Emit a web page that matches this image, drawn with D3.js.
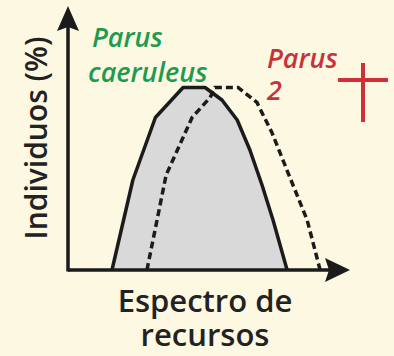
<!DOCTYPE html>
<html>
<head>
<meta charset="utf-8">
<script src="https://cdn.jsdelivr.net/npm/d3@7"></script>
<style>
  html, body { margin: 0; padding: 0; background: #fcf8e2; }
  svg { display: block; }
</style>
</head>
<body>
<svg id="chart" width="394" height="356"></svg>
<script>
// resource spectrum position (0-100) and individuals (%)
const caeruleusX = [15.6, 23, 31, 40.8, 48.6, 54.6, 60, 64.5, 68.8, 72.7, 77.7];
const caeruleusY = [0, 36, 61, 73, 73, 68, 60, 48, 34, 20, 0];
const parus2X = [28, 34.8, 44, 50.4, 52.1, 60.3, 67, 72.3, 78.7, 84.8, 89.4];
const parus2Y = [0, 38, 61, 69, 73, 73, 67, 55, 37, 20, 0];

const xLabel = ["Espectro de", "recursos"];
const yLabel = "Individuos (%)";
const name1 = ["Parus", "caeruleus"];
const name2 = ["Parus", "2"];

const svg = d3.select("#chart");

const x = d3.scaleLinear().domain([0, 100]).range([68, 350]);
const y = d3.scaleLinear().domain([0, 100]).range([270, 20]);

const dark = "#1b1b1b";

const line = d3.line()
  .x((d) => x(d[0]))
  .y((d) => y(d[1]));

const solid = caeruleusX.map((v, i) => [v, caeruleusY[i]]);
const dashed = parus2X.map((v, i) => [v, parus2Y[i]]);

// gray area for Parus caeruleus
svg.append("path")
  .datum(solid)
  .attr("fill", "#d9d9d9")
  .attr("stroke", dark)
  .attr("stroke-width", 3.5)
  .attr("stroke-linejoin", "round")
  .attr("d", line);

// dashed curve for Parus 2
svg.append("path")
  .datum(dashed)
  .attr("fill", "none")
  .attr("stroke", dark)
  .attr("stroke-width", 3.5)
  .attr("stroke-dasharray", "7,4")
  .attr("d", line);

// axes with arrows
const x0 = x(0), y0 = y(0);
svg.append("line")
  .attr("x1", x0).attr("y1", y0)
  .attr("x2", 330).attr("y2", y0)
  .attr("stroke", dark).attr("stroke-width", 3.5);
svg.append("path")
  .attr("d", `M350,${y0} L325,${y0 - 12} L329,${y0} L325,${y0 + 12} Z`)
  .attr("fill", dark);

svg.append("line")
  .attr("x1", x0).attr("y1", y0 + 1.5)
  .attr("x2", x0).attr("y2", 26)
  .attr("stroke", dark).attr("stroke-width", 3.5);
svg.append("path")
  .attr("d", `M${x0},6 L${x0 - 11},31 L${x0},27 L${x0 + 11},31 Z`)
  .attr("fill", dark);

const font = "'Open Sans', sans-serif";

// axis labels
svg.append("text")
  .attr("transform", "translate(47,138) rotate(-90)")
  .attr("text-anchor", "middle")
  .attr("font-family", font)
  .attr("font-weight", 600)
  .attr("font-size", 30)
  .attr("fill", "#222")
  .text(yLabel);

svg.append("text")
  .attr("text-anchor", "middle")
  .attr("font-family", font)
  .attr("font-weight", 600)
  .attr("font-size", 31)
  .attr("fill", "#222")
  .selectAll("tspan")
  .data(xLabel)
  .enter()
  .append("tspan")
  .attr("x", 205)
  .attr("y", (d, i) => 312 + i * 34)
  .text((d) => d);

// species names
svg.append("text")
  .attr("font-family", font)
  .attr("font-weight", 600)
  .attr("font-style", "italic")
  .attr("font-size", 27)
  .attr("fill", "#1f9a4e")
  .selectAll("tspan")
  .data(name1)
  .enter()
  .append("tspan")
  .attr("x", (d, i) => (i === 0 ? 92 : 88))
  .attr("y", (d, i) => 47 + i * 35)
  .text((d) => d);

svg.append("text")
  .attr("font-family", font)
  .attr("font-weight", 600)
  .attr("font-style", "italic")
  .attr("font-size", 27)
  .attr("fill", "#c9323b")
  .selectAll("tspan")
  .data(name2)
  .enter()
  .append("tspan")
  .attr("x", 267)
  .attr("y", (d, i) => 68 + i * 32)
  .text((d) => d);

// red cross
svg.append("line")
  .attr("x1", 363).attr("y1", 63).attr("x2", 363).attr("y2", 122)
  .attr("stroke", "#cf2f35").attr("stroke-width", 4);
svg.append("line")
  .attr("x1", 338).attr("y1", 80).attr("x2", 388).attr("y2", 80)
  .attr("stroke", "#cf2f35").attr("stroke-width", 4);
</script>
</body>
</html>
